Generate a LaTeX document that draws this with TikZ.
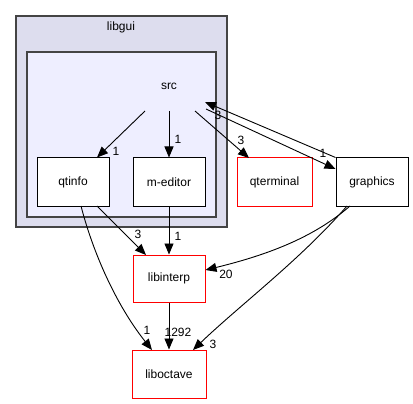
\documentclass[tikz,border=0pt]{standalone}
\usepackage{fontspec}
\setmainfont{Liberation Sans}
\usetikzlibrary{arrows.meta}
\definecolor{outerfill}{HTML}{DDDDEE}
\definecolor{innerfill}{HTML}{EEEEFF}
\definecolor{boxgray}{HTML}{444444}
\begin{document}
\begin{tikzpicture}[x=1pt,y=-1pt,
  every node/.style={font=\fontsize{12}{14}\selectfont},
  dirbox/.style={draw=black,fill=white,line width=1pt,minimum width=72pt,minimum height=48pt,inner sep=0pt},
  redbox/.style={draw=red,fill=white,line width=1pt,minimum width=74pt,minimum height=48pt,inner sep=0pt},
  cluster/.style={draw=boxgray,line width=1.2pt,inner sep=0pt},
  dep/.style={draw=black,line width=0.9pt,-{Triangle[length=11pt,width=9pt]}},
  lbl/.style={inner sep=0pt,font=\fontsize{12}{14}\selectfont}]
\useasboundingbox (0,0) rectangle (413,404);
% clusters
\draw[cluster,fill=outerfill] (16,16) rectangle (227,227);
\node (libgui) at (121,27) {libgui};
\draw[cluster,fill=innerfill] (27,52) rectangle (216,217);
\node (src) at (169,86) {src};
\coordinate (srcA) at (145,111);
\coordinate (srcB) at (169,111);
\coordinate (srcC) at (195,111);
\coordinate (srcD) at (206,109);
\coordinate (srcE) at (205,102);
% boxes
\node[dirbox] (qtinfo) at (73,182) {qtinfo};
\node[dirbox] (meditor) at (169,182) {m-editor};
\node[redbox,minimum width=75pt] (qterminal) at (274.5,182) {qterminal};
\node[dirbox] (graphics) at (372,182) {graphics};
\node[redbox,minimum width=72pt,minimum height=47pt] (libinterp) at (169,278.5) {libinterp};
\node[redbox] (liboctave) at (169,374) {liboctave};
% edges
\draw[dep] (srcA) -- (qtinfo.north -| 97,0);
\node[lbl] (l1) at (116,151) {1};
\draw[dep] (srcB) -- (meditor.north);
\node[lbl] (l2) at (178,139) {1};
\draw[dep] (srcC) -- (249,158);
\node[lbl] (l3) at (241,140) {3};
\draw[dep] (srcD) -- (graphics.west |- 0,169);
\node[lbl] (l4) at (218,115) {3};
\draw[dep] (graphics.north west) -- (srcE);
\node[lbl] (l5) at (323,153) {1};
\draw[dep] (97,206) -- (146,255);
\node[lbl] (l6) at (138,234) {3};
\draw[dep] (meditor.south) -- (libinterp.north);
\node[lbl] (l7) at (178,236) {1};
\draw[dep] (350,206) .. controls (320,232) and (280,252) .. (205.5,270);
\node[lbl] (l8) at (226,274) {20};
\draw[dep] (347,206) .. controls (300,260) and (240,305) .. (193,350);
\node[lbl] (l9) at (213,344) {3};
\draw[dep] (81,206) .. controls (95,260) and (120,310) .. (152,350);
\node[lbl] (l10) at (147,330) {1};
\draw[dep] (libinterp.south) -- (liboctave.north);
\node[lbl] (l11) at (178,332) {1292};
\end{tikzpicture}
\end{document}
